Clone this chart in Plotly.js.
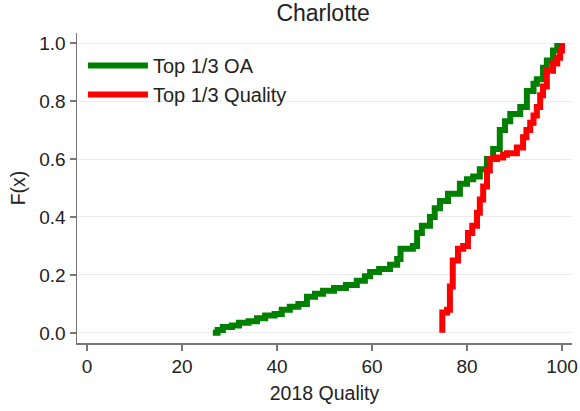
<!DOCTYPE html>
<html>
<head>
<meta charset="utf-8">
<script src="https://cdn.plot.ly/plotly-3.0.1.min.js"></script>
<style>html,body{margin:0;padding:0;background:#fff;}#chart{width:580px;height:411px;}</style>
</head>
<body>
<div id="chart"></div>
<script>
const oaX = [26.5, 27.5, 28.6, 30.5, 32, 34, 35.8, 37.5, 39.5, 41, 42.7, 44.5, 46.3, 48, 49.7, 52, 54.5, 56.8, 58.5, 59.6, 61.5, 63.8, 65.3, 66, 68.6, 69.5, 70.5, 72.2, 73.2, 74.3, 76, 78.5, 80, 81.3, 82.7, 84.2, 85.5, 86.9, 88, 89.1, 91.2, 92.6, 94, 94.7, 96, 96.8, 98.1, 99, 99.8];
const oaY = [0.00, 0.01, 0.02, 0.025, 0.035, 0.04, 0.05, 0.06, 0.065, 0.08, 0.09, 0.10, 0.125, 0.135, 0.145, 0.155, 0.165, 0.18, 0.195, 0.21, 0.22, 0.235, 0.255, 0.29, 0.30, 0.345, 0.37, 0.40, 0.43, 0.455, 0.48, 0.515, 0.53, 0.54, 0.565, 0.60, 0.635, 0.70, 0.73, 0.755, 0.78, 0.835, 0.86, 0.875, 0.915, 0.94, 0.975, 0.99, 1.0];

const qX = [74.8, 74.8, 75.8, 76.4, 77.0, 78.1, 79.2, 80.2, 81.1, 82.1, 82.7, 83.4, 84.2, 84.8, 86.3, 87.6, 88.4, 90.5, 91.8, 92.5, 93.3, 94.0, 94.7, 95.4, 96.0, 96.8, 98.1, 99.0, 99.6, 100];
const qY = [0.00, 0.07, 0.08, 0.16, 0.25, 0.29, 0.30, 0.345, 0.37, 0.415, 0.46, 0.505, 0.56, 0.60, 0.605, 0.615, 0.62, 0.64, 0.675, 0.70, 0.725, 0.75, 0.78, 0.82, 0.85, 0.905, 0.93, 0.95, 0.975, 1.0];

const seriesNames = ["Top 1/3 OA", "Top 1/3 Quality"];
const xTicks = [0, 20, 40, 60, 80, 100];
const yTicks = [0, 0.2, 0.4, 0.6, 0.8, 1.0];
const yTickText = ["0.0", "0.2", "0.4", "0.6", "0.8", "1.0"];

const fontFam = "Liberation Sans, Arial, sans-serif";
const txt = "#222";

const traces = [
  {x: oaX, y: oaY, name: seriesNames[0], mode: "lines", line: {shape: "hv", color: "#008000", width: 6}},
  {x: qX, y: qY, name: seriesNames[1], mode: "lines", line: {shape: "hv", color: "#ff0000", width: 6}}
];

const layout = {
  width: 580, height: 411,
  margin: {l: 77, r: 8, t: 33, b: 68},
  paper_bgcolor: "#fff", plot_bgcolor: "#fff",
  font: {family: fontFam, color: txt, size: 19},
  title: {text: "Charlotte", font: {size: 23, color: txt, family: fontFam}, x: 0.557, xanchor: "center", y: 0.968, yanchor: "middle"},
  showlegend: true,
  legend: {x: 0.012, y: 0.958, xanchor: "left", yanchor: "top", bgcolor: "rgba(0,0,0,0)", font: {size: 20, color: txt}, itemwidth: 60, tracegroupgap: 0},
  xaxis: {
    range: [-2.1, 102.1], tickvals: xTicks, ticktext: xTicks.map(String),
    showgrid: false, zeroline: false, showline: true, linecolor: "#777", linewidth: 1.5,
    ticks: "outside", ticklen: 6, tickcolor: "#777", tickwidth: 1.5,
    tickfont: {size: 19, color: txt},
    title: {text: "2018 Quality", font: {size: 19.5, color: txt}, standoff: 10}
  },
  yaxis: {
    range: [-0.035, 1.035], tickvals: yTicks, ticktext: yTickText,
    showgrid: true, gridcolor: "#ececec", gridwidth: 1, zeroline: false,
    showline: true, linecolor: "#777", linewidth: 1.5,
    ticks: "outside", ticklen: 6, tickcolor: "#777", tickwidth: 1.5,
    tickfont: {size: 19, color: txt},
    title: {text: "F(x)", font: {size: 19.5, color: txt}, standoff: 8}
  }
};

Plotly.newPlot("chart", traces, layout, {displayModeBar: false, staticPlot: true});
</script>
</body>
</html>
